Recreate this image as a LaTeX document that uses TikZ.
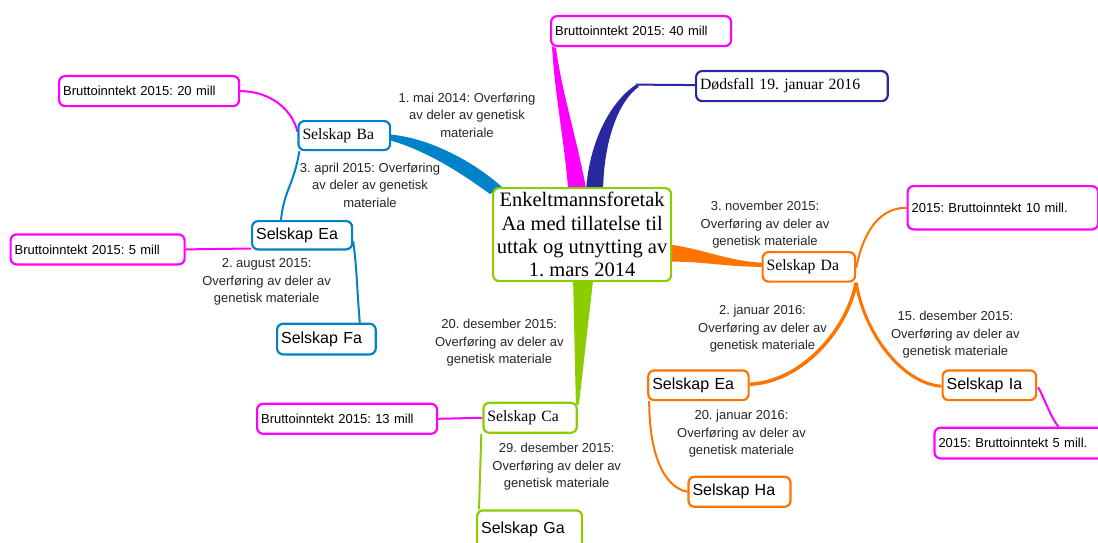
\documentclass[tikz,border=0pt]{standalone}
\usepackage{fontspec}
\setmainfont{Liberation Serif}
\setsansfont{Liberation Sans}
\usepackage{tikz}
\usetikzlibrary{calc}
\usetikzlibrary{backgrounds}
\definecolor{mmag}{RGB}{255,0,255}
\definecolor{mblue}{RGB}{0,130,200}
\definecolor{mdark}{RGB}{40,40,160}
\definecolor{morange}{RGB}{255,115,0}
\definecolor{mgreen}{RGB}{140,205,0}
\frenchspacing

\begin{document}
\begin{tikzpicture}[x=1pt,y=-1pt]
  \tikzset{mybox/.style={draw=#1, line width=2.2pt, rounded corners=6pt, fill=white, inner xsep=4pt, inner ysep=0pt, align=left, anchor=north west, text=black}};
  \tikzset{myserif/.style={mybox=#1, font=\fontsize{15.7}{18}\selectfont}};
  \tikzset{mysans/.style={mybox=#1, font=\sffamily\fontsize{16}{18}\selectfont}};
  \tikzset{myinc/.style={mybox=mmag, font=\sffamily\fontsize{13}{16}\selectfont}};
  \tikzset{mylabel/.style={font=\sffamily\fontsize{13}{17.5}\selectfont, align=center, text=black!85}};
  \tikzset{myline/.style={draw=#1, line width=2pt}};

  \useasboundingbox (0,0) rectangle (1098,543);

  \node[mybox=mgreen, align=center, inner xsep=2pt, minimum width=178pt, minimum height=93pt, font=\fontsize{20.5}{23.3}\selectfont] (ctr) at (492,187) {Enkeltmannsforetak\\Aa med tillatelse til\\uttak og utnytting av\\1. mars 2014};

  \node[myinc, text width=172pt, minimum height=30pt] (m40) at (550,15) {Bruttoinntekt 2015: 40 mill};
  \node[myserif=mdark, text width=183.6pt, minimum height=30pt] (dod) at (695,70) {Dødsfall 19. januar 2016};

  \node[myserif=mblue, text width=83.6pt, minimum height=29pt] (ba) at (297.4,120) {Selskap Ba};
  \node[myinc, text width=172pt, minimum height=30pt] (m20) at (58,75) {Bruttoinntekt 2015: 20 mill};
  \node[mysans=mblue, text width=92pt, minimum height=28.3pt] (eaL) at (251,220) {Selskap Ea};
  \node[myinc, text width=166pt, minimum height=30pt] (m5) at (9.5,233.3) {Bruttoinntekt 2015: 5 mill};
  \node[mysans=mblue, text width=90.6pt, minimum height=30.6pt] (fa) at (276,322.7) {Selskap Fa};

  \node[myserif=mgreen, text width=85.4pt, minimum height=30pt] (ca) at (482.3,401.7) {Selskap Ca};
  \node[myinc, text width=172pt, minimum height=30pt] (m13) at (256,402.7) {Bruttoinntekt 2015: 13 mill};
  \node[mysans=mgreen, text width=97pt, minimum height=38pt] (ga) at (476,509.3) {Selskap Ga};

  \node[myserif=morange, text width=84.5pt, minimum height=29.5pt] (da) at (761.5,251) {Selskap Da};
  \node[myinc, text width=182.5pt, minimum height=43.3pt] (m10) at (906.5,185) {2015: Bruttoinntekt 10 mill.};
  \node[mysans=morange, text width=92.3pt, minimum height=29.7pt] (eaR) at (647.2,369.3) {Selskap Ea};
  \node[mysans=morange, text width=94pt, minimum height=30pt] (ha) at (687.4,475.7) {Selskap Ha};
  \node[mysans=morange, text width=85.5pt, minimum height=29.7pt] (ia) at (941.5,369.3) {Selskap Ia};
  \node[myinc, text width=162pt, minimum height=30.6pt] (m5R) at (933.4,426.7) {2015: Bruttoinntekt 5 mill.};

  % labels on the branches
  \node[mylabel] (l1) at (467,115) {1. mai 2014: Overføring\\av deler av genetisk\\materiale};
  \node[mylabel] (l2) at (370,185) {3. april 2015: Overføring\\av deler av genetisk\\materiale};
  \node[mylabel] (l3) at (266.6,282.3) {2. august 2015:\\Overføring av deler av\\genetisk materiale};
  \node[mylabel] (l4) at (765,225) {3. november 2015:\\Overføring av deler av\\genetisk materiale};
  \node[mylabel] (l5) at (499.3,342.7) {20. desember 2015:\\Overføring av deler av\\genetisk materiale};
  \node[mylabel] (l6) at (556.7,467) {29. desember 2015:\\Overføring av deler av\\genetisk materiale};
  \node[mylabel] (l7) at (762.5,328.7) {2. januar 2016:\\Overføring av deler av\\genetisk materiale};
  \node[mylabel] (l8) at (741.5,433.7) {20. januar 2016:\\Overføring av deler av\\genetisk materiale};
  \node[mylabel] (l9) at (955.4,335) {15. desember 2015:\\Overføring av deler av\\genetisk materiale};

  \coordinate (dktip) at ($(dod.west)+(-59,-1.5)$);

  \begin{scope}[on background layer]
    % thick branches from the centre
    \fill[mblue] ($(ba.east)+(0,-1)$) .. controls +(40,4) and +(-28,-25) .. ($(ctr.north west)+(10,0)$) -- ($(ctr.north west)+(-2,7)$) .. controls +(-25,-18) and +(40,12) .. ($(ba.east)+(0,5)$) -- cycle;
    \fill[mmag] ($(m40.south west)+(2,-1)$) .. controls +(3,50) and +(-4,-50) .. ($(ctr.north)+(-14,2)$) -- ($(ctr.north)+(4,2)$) .. controls +(-9,-50) and +(6,45) .. ($(m40.south west)+(6,1)$) -- cycle;
    \fill[mdark] ($(ctr.north)+(4,2)$) .. controls +(4,-50) and +(-25,17) .. (dktip) -- ($(dktip)+(3,2)$) .. controls +(-20,14) and +(1,-50) .. ($(ctr.north)+(21,2)$) -- cycle;
    \fill[morange] ($(ctr.east)+(-2,10)$) .. controls +(35,5) and +(-35,-2) .. ($(da.west)+(1,-4)$) -- ($(da.west)+(1,0)$) .. controls +(-35,0) and +(35,0) .. ($(ctr.east)+(-2,27)$) -- cycle;
    \fill[mgreen] ($(ctr.south)+(-9,-2)$) -- ($(ca.north east)+(-2,3)$) -- ($(ca.north east)+(1,3)$) -- ($(ctr.south)+(11,-2)$) -- cycle;
    \draw[myline=mdark] (dktip) -- ($(dod.west)+(0,-1)$);

    % thin branches
    \draw[myline=mmag] (m20.east) .. controls +(30,0) and +(-5,-22) .. ($(ba.west)+(0,-4)$);
    \draw[myline=mblue] ($(ba.south west)+(2,0)$) .. controls +(-6,35) and +(3,-30) .. ($(eaL.north west)+(30,0)$);
    \draw[myline=mmag] (m5.east) -- ($(eaL.south west)+(0,-2)$);
    \draw[myline=mblue] ($(eaL.east)+(0,6)$) .. controls +(4,30) and +(-3,-35) .. ($(fa.north east)+(-17,0)$);
    \draw[myline=mmag] (m13.east) -- (ca.west);
    \draw[myline=mgreen] ($(ca.south west)+(-1,0)$) -- ($(ga.north west)+(3,0)$);
    \draw[myline=morange] ($(da.east)+(0,1)$) .. controls +(8,-40) and +(-25,0) .. (m10.west);
    \draw[myline=morange, line width=3.5pt] (da.south east) .. controls +(-10,50) and +(50,-2) .. ($(eaR.east)+(0,-1)$);
    \draw[myline=morange, line width=3pt] (da.south east) .. controls +(8,50) and +(-40,-3) .. ($(ia.west)+(0,1)$);
    \draw[myline=morange] ($(eaR.south west)+(2,0)$) .. controls +(0,50) and +(-25,-5) .. (ha.west);
    \draw[myline=mmag] ($(ia.east)+(1,2)$) .. controls +(8,15) and +(-8,-10) .. ($(m5R.north west)+(125,0)$);
  \end{scope}
\end{tikzpicture}
\end{document}
